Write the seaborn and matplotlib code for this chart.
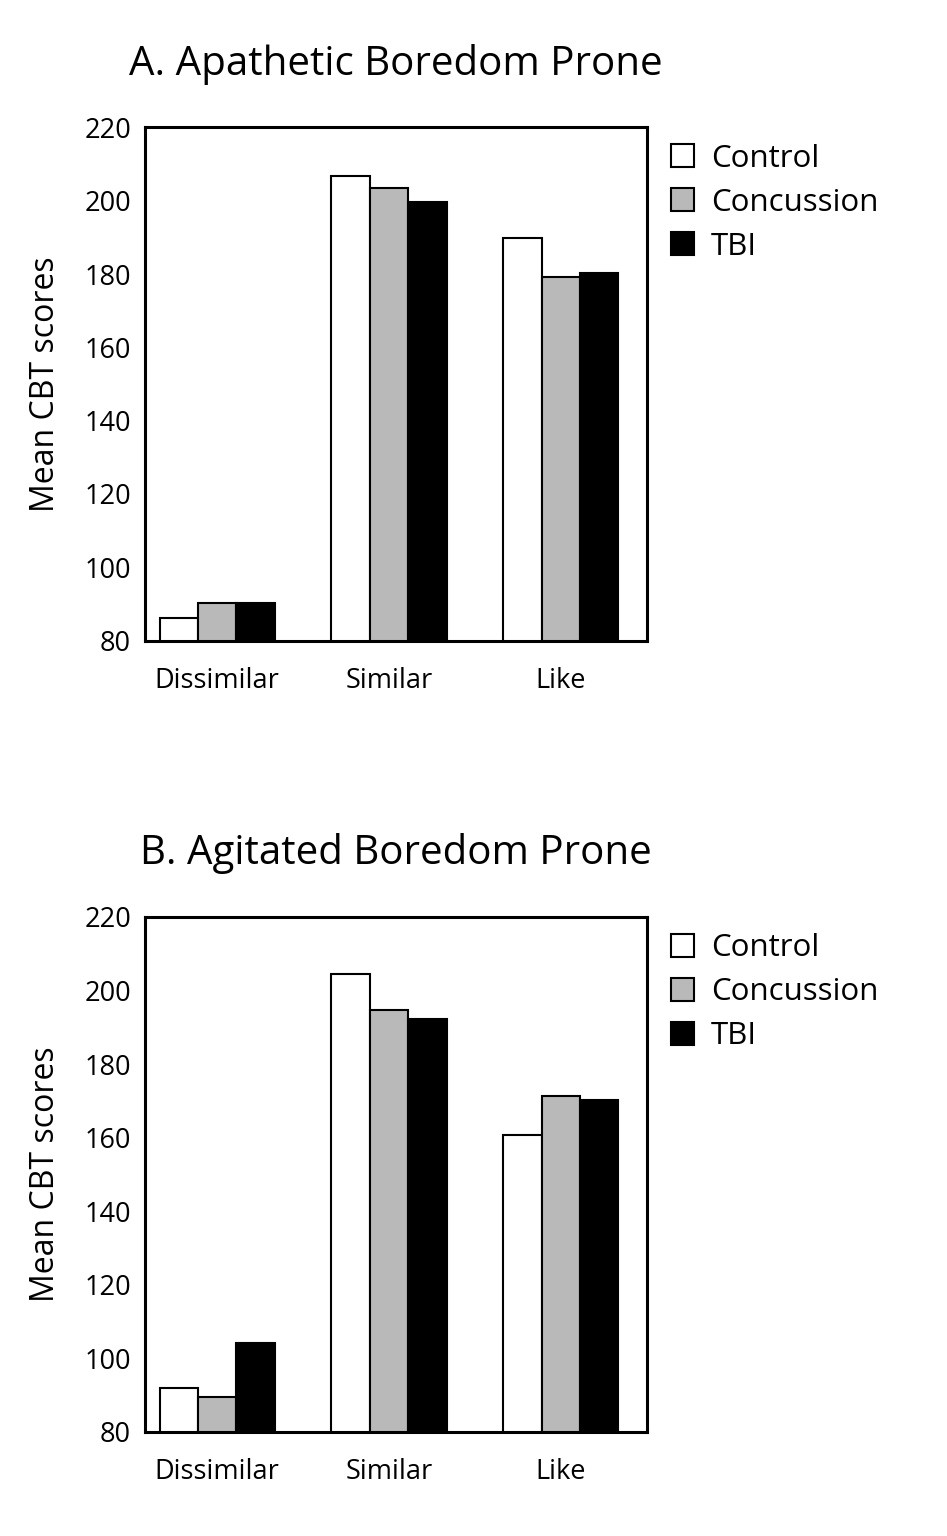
import pandas as pd
import seaborn as sns
import matplotlib.pyplot as plt
from matplotlib.patches import Patch

# values
conditions = ["Dissimilar", "Similar", "Like"]
groups = ["Control", "Concussion", "TBI"]

apathetic_control = [86.2, 206.7, 189.8]
apathetic_concussion = [90.3, 203.6, 179.3]
apathetic_tbi = [90.3, 199.8, 180.4]

agitated_control = [91.8, 204.5, 160.7]
agitated_concussion = [89.5, 194.7, 171.4]
agitated_tbi = [104.2, 192.2, 170.1]

titles = ["A. Apathetic Boredom Prone", "B. Agitated Boredom Prone"]
colors = ["white", "#b9b9b9", "black"]


def long_form(control, concussion, tbi):
    rows = []
    for g, vals in zip(groups, [control, concussion, tbi]):
        for c, v in zip(conditions, vals):
            rows.append({"condition": c, "group": g, "score": v})
    return pd.DataFrame(rows)


panels = [
    long_form(apathetic_control, apathetic_concussion, apathetic_tbi),
    long_form(agitated_control, agitated_concussion, agitated_tbi),
]

sns.set_style("white")
plt.rcParams['font.family'] = ['Open Sans', 'DejaVu Sans']
plt.rcParams['text.color'] = 'black'
plt.rcParams['xtick.color'] = 'black'
plt.rcParams['ytick.color'] = 'black'
plt.rcParams['axes.labelcolor'] = 'black'

fig = plt.figure(figsize=(9.47, 15.36), dpi=100)
axes_pos = [[0.153, 0.583, 0.530, 0.334],
            [0.153, 0.068, 0.530, 0.335]]

for pos, df, title in zip(axes_pos, panels, titles):
    ax = fig.add_axes(pos)
    sns.barplot(data=df, x="condition", y="score", hue="group",
                order=conditions, hue_order=groups, palette=colors,
                edgecolor="black", linewidth=1.5, width=0.67,
                saturation=1, ax=ax, legend=False)
    ax.set_ylim(80, 220)
    ax.set_yticks(range(80, 221, 20))
    ax.set_xlim(-0.42, 2.5)
    ax.set_xlabel("")
    ax.set_ylabel("Mean CBT scores", fontsize=23, labelpad=16)
    ax.set_title(title, fontsize=29, pad=38, loc="center")
    ax.tick_params(axis="y", length=0, labelsize=19.5, pad=10)
    ax.tick_params(axis="x", length=0, labelsize=19.5, pad=19)
    for s in ax.spines.values():
        s.set_visible(True)
        s.set_linewidth(2.2)
        s.set_color("black")
    handles = [Patch(facecolor=c, edgecolor="black", linewidth=1.5) for c in colors]
    ax.legend(handles, groups, loc="upper left", bbox_to_anchor=(1.01, 1.005),
              frameon=False, fontsize=22.5, handlelength=0.75, handleheight=0.75,
              handletextpad=0.55, labelspacing=0.45, borderaxespad=0.2)

fig.savefig("out.png", dpi=100, facecolor="white")
